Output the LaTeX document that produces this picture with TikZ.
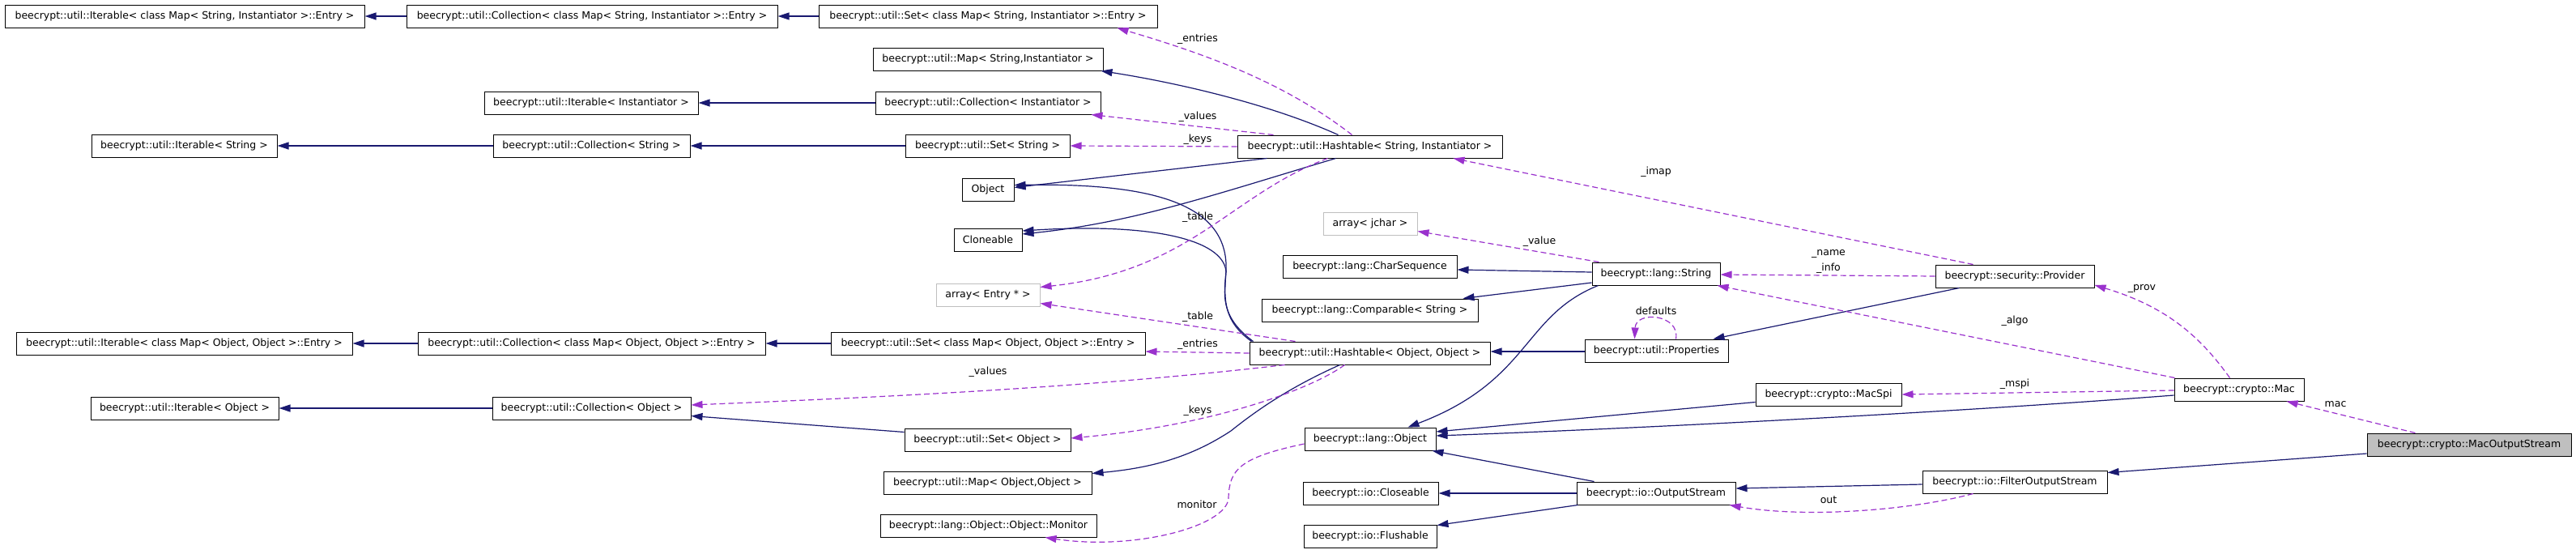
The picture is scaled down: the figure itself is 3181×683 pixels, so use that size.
\documentclass[tikz,border=0pt]{standalone}
\usepackage{fontspec}
\setmainfont{DejaVu Sans}
\usetikzlibrary{calc,arrows.meta}
\definecolor{navy}{HTML}{191970}
\definecolor{purp}{HTML}{9A32CD}
\definecolor{graybox}{HTML}{BFBFBF}
\newcommand\lblfont{\fontsize{12.5}{15}\selectfont}
\tikzset{
  cls/.style={draw=black, fill=white, line width=1pt, inner sep=0pt, minimum height=28pt, font=\lblfont, text=black},
  gcls/.style={cls, draw=graybox},
  inh/.style={draw=navy, line width=1.2pt, -{Triangle[length=14pt,width=9pt]}},
  use/.style={draw=purp, line width=1.2pt, dash pattern=on 7pt off 4pt, -{Triangle[length=14pt,width=9pt]}},
  elbl/.style={font=\lblfont, inner sep=0pt, text=black}
}
\begin{document}
\begin{tikzpicture}[x=1pt,y=-1pt]
\fill[white] (0,0) rectangle (3181,683);
\useasboundingbox (0,0) rectangle (3181,683);

% nodes
\node[cls, minimum width=444pt] (IterEntrySI) at (228,20) {beecrypt::util::Iterable< class Map< String, Instantiator >::Entry >};
\node[cls, minimum width=458pt] (CollEntrySI) at (731,20) {beecrypt::util::Collection< class Map< String, Instantiator >::Entry >};
\node[cls, minimum width=418pt] (SetEntrySI) at (1220,20) {beecrypt::util::Set< class Map< String, Instantiator >::Entry >};
\node[cls, minimum width=284pt] (MapSI) at (1220,73) {beecrypt::util::Map< String,Instantiator >};
\node[cls, minimum width=264pt] (IterInst) at (730,127) {beecrypt::util::Iterable< Instantiator >};
\node[cls, minimum width=278pt] (CollInst) at (1220,127) {beecrypt::util::Collection< Instantiator >};
\node[cls, minimum width=229pt] (IterString) at (227.5,180) {beecrypt::util::Iterable< String >};
\node[cls, minimum width=243pt] (CollString) at (730.5,180) {beecrypt::util::Collection< String >};
\node[cls, minimum width=203pt] (SetString) at (1219.5,180) {beecrypt::util::Set< String >};
\node[cls, minimum width=327pt] (HashSI) at (1691.5,181) {beecrypt::util::Hashtable< String, Instantiator >};
\node[cls, minimum width=64pt] (Object) at (1220,234.5) {Object};
\node[cls, minimum width=84pt] (Cloneable) at (1220,296) {Cloneable};
\node[gcls, minimum width=116pt] (ArrayJchar) at (1692,276) {array< jchar >};
\node[cls, minimum width=215pt] (CharSeq) at (1691.5,329) {beecrypt::lang::CharSequence};
\node[cls, minimum width=267pt] (Comparable) at (1691.5,383) {beecrypt::lang::Comparable< String >};
\node[gcls, minimum width=128pt] (ArrayEntry) at (1220,364) {array< Entry * >};
\node[cls, minimum width=158pt] (String) at (2045,338) {beecrypt::lang::String};
\node[cls, minimum width=196pt] (Provider) at (2488,341) {beecrypt::security::Provider};
\node[cls, minimum width=415pt] (IterEntryOO) at (227.5,424) {beecrypt::util::Iterable< class Map< Object, Object >::Entry >};
\node[cls, minimum width=429pt] (CollEntryOO) at (730.5,424) {beecrypt::util::Collection< class Map< Object, Object >::Entry >};
\node[cls, minimum width=388pt] (SetEntryOO) at (1220,424) {beecrypt::util::Set< class Map< Object, Object >::Entry >};
\node[cls, minimum width=297pt] (HashOO) at (1691.5,436) {beecrypt::util::Hashtable< Object, Object >};
\node[cls, minimum width=177pt] (Properties) at (2045.5,433) {beecrypt::util::Properties};
\node[cls, minimum width=160pt] (Mac) at (2765,481) {beecrypt::crypto::Mac};
\node[cls, minimum width=180pt] (MacSpi) at (2258,487) {beecrypt::crypto::MacSpi};
\node[cls, minimum width=232pt] (IterObj) at (228,504) {beecrypt::util::Iterable< Object >};
\node[cls, minimum width=245pt] (CollObj) at (730.5,504) {beecrypt::util::Collection< Object >};
\node[cls, minimum width=205pt] (SetObj) at (1219.5,543) {beecrypt::util::Set< Object >};
\node[cls, minimum width=162pt] (LangObject) at (1692,542) {beecrypt::lang::Object};
\node[cls, fill=graybox, minimum width=252pt] (MOS) at (3049,549) {beecrypt::crypto::MacOutputStream};
\node[cls, minimum width=228pt] (FOS) at (2488,595) {beecrypt::io::FilterOutputStream};
\node[cls, minimum width=257pt] (MapOO) at (1219.5,596) {beecrypt::util::Map< Object,Object >};
\node[cls, minimum width=196pt] (OutputStream) at (2045,609) {beecrypt::io::OutputStream};
\node[cls, minimum width=167pt] (Closeable) at (1692.5,609) {beecrypt::io::Closeable};
\node[cls, minimum width=267pt] (Monitor) at (1220.5,649) {beecrypt::lang::Object::Object::Monitor};
\node[cls, minimum width=164pt] (Flushable) at (1692,662) {beecrypt::io::Flushable};

% inheritance edges
\draw[inh] (CollEntrySI.west) -- (IterEntrySI.east);
\draw[inh] (SetEntrySI.west) -- (CollEntrySI.east);
\draw[inh] (CollInst.west) -- (IterInst.east);
\draw[inh] (CollString.west) -- (IterString.east);
\draw[inh] (SetString.west) -- (CollString.east);
\draw[inh] ($(HashSI.north west)+(125,0)$) .. controls (1560,125) and (1440,100) .. ($(MapSI.south east)+(-3,0)$);
\draw[inh] ($(HashSI.south west)+(37,0)$) -- ($(Object.east)+(0,-3)$);
\draw[inh] ($(HashSI.south west)+(122,0)$) .. controls (1500,240) and (1400,275) .. ($(Cloneable.east)+(0,-7)$);
\draw[inh] ($(HashOO.north west)+(3,0)$) .. controls (1508,395) and (1512,365) .. (1514,335) .. controls (1518,250) and (1420,226) .. ($(Object.east)+(0,-6)$);
\draw[inh] ($(HashOO.north west)+(5,0)$) .. controls (1505,390) and (1512,362) .. (1514,335) .. controls (1510,295) and (1420,275) .. ($(Cloneable.east)+(0,-11)$);
\draw[inh] (CollEntryOO.west) -- (IterEntryOO.east);
\draw[inh] (SetEntryOO.west) -- (CollEntryOO.east);
\draw[inh] (CollObj.west) -- (IterObj.east);
\draw[inh] ($(SetObj.north west)+(0,5)$) -- ($(CollObj.south east)+(0,-5)$);
\draw[inh] ($(HashOO.south west)+(112,0)$) .. controls (1600,475) and (1560,500) .. (1520,532) .. controls (1470,565) and (1420,578) .. ($(MapOO.north east)+(0,3)$);
\draw[inh] ($(String.west)+(0,-2)$) -- ($(CharSeq.east)+(0,4)$);
\draw[inh] ($(String.west)+(0,11)$) -- ($(Comparable.north east)+(-19,0)$);
\draw[inh] ($(String.south west)+(8,0)$) .. controls (1880,390) and (1890,470) .. ($(LangObject.north east)+(-35,0)$);
\draw[inh] ($(Properties.west)+(0,1)$) -- ($(HashOO.east)+(0,-2)$);
\draw[inh] ($(Provider.south west)+(30,0)$) -- ($(Properties.north east)+(-19,0)$);
\draw[inh] ($(MacSpi.south west)+(0,-5)$) -- ($(LangObject.east)+(0,-9)$);
\draw[inh] ($(Mac.west)+(0,7)$) .. controls (2400,510) and (2000,530) .. ($(LangObject.east)+(0,-4)$);
\draw[inh] ($(OutputStream.north west)+(22,0)$) -- ($(LangObject.south east)+(-5,0)$);
\draw[inh] (OutputStream.west) -- (Closeable.east);
\draw[inh] ($(OutputStream.south west)+(2,0)$) -- ($(Flushable.north east)+(0,1)$);
\draw[inh] ($(FOS.west)+(0,3)$) -- ($(OutputStream.east)+(0,-6)$);
\draw[inh] ($(MOS.west)+(0,11)$) -- ($(FOS.north east)+(0,3)$);

% usage edges
\draw[use] ($(HashSI.north west)+(142,0)$) .. controls (1590,105) and (1500,70) .. ($(SetEntrySI.south east)+(-50,0)$);
\draw[use] ($(HashSI.north west)+(45,0)$) -- ($(CollInst.south east)+(-12,0)$);
\draw[use] (HashSI.west) -- (SetString.east);
\draw[use] ($(HashSI.south west)+(112,0)$) .. controls (1520,240) and (1470,335) .. ($(ArrayEntry.north east)+(0,5)$);
\draw[use] ($(HashOO.north west)+(57,0)$) -- ($(ArrayEntry.south east)+(0,-4)$);
\draw[use] (HashOO.west) -- ($(SetEntryOO.east)+(0,10)$);
\draw[use] ($(HashOO.south west)+(44,0)$) .. controls (1350,478) and (1100,490) .. ($(CollObj.east)+(0,-4)$);
\draw[use] ($(HashOO.south west)+(118,0)$) .. controls (1620,480) and (1500,525) .. ($(SetObj.east)+(0,-2)$);
\draw[use] ($(LangObject.west)+(0,6)$) .. controls (1530,565) and (1518,580) .. (1517,615) .. controls (1515,650) and (1400,680) .. ($(Monitor.south east)+(-64,0)$);
\draw[use] ($(String.north west)+(9,0)$) -- ($(ArrayJchar.south east)+(0,-5)$);
\draw[use] ($(Properties.north west)+(113,0)$) .. controls (2075,388) and (2020,383) .. ($(Properties.north west)+(62,0)$);
\draw[use] (Provider.west) -- ($(String.east)+(0,1)$);
\draw[use] ($(Provider.north west)+(47,0)$) -- ($(HashSI.south east)+(-61,0)$);
\draw[use] ($(Mac.north west)+(1,0)$) -- ($(String.south east)+(-4,0)$);
\draw[use] ($(Mac.west)+(0,1)$) -- (MacSpi.east);
\draw[use] ($(Mac.north west)+(69,0)$) .. controls (2720,420) and (2680,380) .. ($(Provider.east)+(0,11)$);
\draw[use] ($(MOS.north west)+(60,0)$) -- ($(Mac.south east)+(-22,0)$);
\draw[use] ($(FOS.south west)+(63,0)$) .. controls (2360,630) and (2230,640) .. ($(OutputStream.south east)+(-8,0)$);

% edge labels
\node[elbl] (lEntriesSI) at (1479,48) {\_entries};
\node[elbl] (lValuesSI) at (1479,144) {\_values};
\node[elbl] (lKeysSI) at (1479,172) {\_keys};
\node[elbl] (lTableSI) at (1479,268) {\_table};
\node[elbl] (lTableOO) at (1479,391) {\_table};
\node[elbl] (lEntriesOO) at (1479,425) {\_entries};
\node[elbl] (lValuesOO) at (1220,459) {\_values};
\node[elbl] (lKeysOO) at (1479,507) {\_keys};
\node[elbl] (lMonitor) at (1478,623) {monitor};
\node[elbl] (lImap) at (2045,212) {\_imap};
\node[elbl] (lValue) at (1901,298) {\_value};
\node[elbl] (lDefaults) at (2045,384) {defaults};
\node[elbl] (lName) at (2258,313) {\_name};
\node[elbl] (lInfo) at (2258,331) {\_info};
\node[elbl] (lAlgo) at (2488,396) {\_algo};
\node[elbl] (lMspi) at (2488,474) {\_mspi};
\node[elbl] (lProv) at (2645,356) {\_prov};
\node[elbl] (lMac) at (2884,499) {mac};
\node[elbl] (lOut) at (2258,617) {out};
\end{tikzpicture}
\end{document}
